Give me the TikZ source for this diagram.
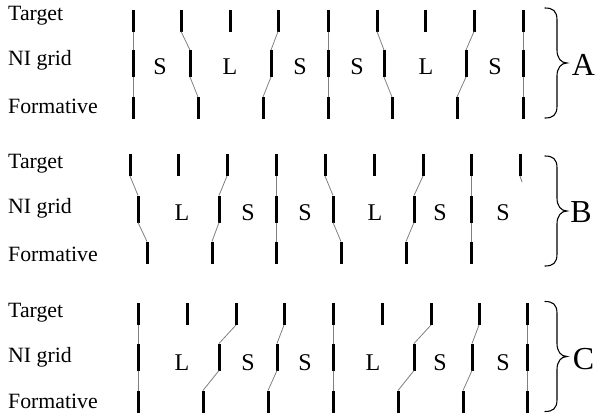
\documentclass[tikz,border=0pt]{standalone}
\usepackage{fontspec}
\setmainfont{Liberation Serif}
\begin{document}
\begin{tikzpicture}[x=1pt,y=-1pt,
  tbar/.style={rectangle,fill=black,draw=none,minimum width=3pt,minimum height=22pt,inner sep=0pt,outer sep=0pt},
  nbar/.style={tbar,minimum height=27pt},
  link/.style={draw=black!50,line width=0.8pt},
  rowlab/.style={anchor=base west,inner sep=0pt,font=\fontsize{21.8}{26}\selectfont},
  cell/.style={anchor=base,inner sep=0pt,font=\fontsize{24}{28}\selectfont},
  panel/.style={anchor=base,inner sep=0pt,font=\fontsize{32}{38}\selectfont},
  curly/.pic={\draw[line width=1.1pt,line cap=round]
    (545,-55) .. controls (553,-55) and (557,-52) .. (557,-43) -- (557,-13)
    .. controls (557,-5) and (561,0) .. (567,0)
    .. controls (561,0) and (557,5) .. (557,13) -- (557,43)
    .. controls (557,52) and (553,55) .. (545,55);}
]
\useasboundingbox (0,0) rectangle (598,416);

% ---------- Panel A ----------
\node[rowlab] (A-lt) at (8,20.7) {Target};
\node[rowlab] (A-ln) at (8,65) {NI grid};
\node[rowlab] (A-lf) at (8,113) {Formative};
\foreach \x [count=\i] in {133,181,230,278,328,377,425,474,523}
  \node[tbar] (A-T\i) at (\x,20.5) {};
\foreach \x [count=\i] in {133,190,271,328,384,466,523}
  \node[nbar] (A-N\i) at (\x,63.5) {};
\foreach \x [count=\i] in {133,198,263,328,392,457,523}
  \node[tbar] (A-F\i) at (\x,108) {};
\foreach \t/\n in {1/1,2/2,4/3,5/4,6/5,8/6,9/7}{
  \draw[link] (A-T\t.south) -- (A-N\n.north);
  \draw[link] (A-N\n.south) -- (A-F\n.north);
}
\foreach \x/\l [count=\i] in {160/S,230/L,300/S,357/S,426/L,495/S}
  \node[cell] (A-c\i) at (\x,74) {\l};
\pic (A-br) at (0,63) {curly};
\node[panel] (A-name) at (583.5,75) {A};

% ---------- Panel B ----------
\node[rowlab] (B-lt) at (8,168) {Target};
\node[rowlab] (B-ln) at (8,213) {NI grid};
\node[rowlab] (B-lf) at (8,261) {Formative};
\foreach \x [count=\i] in {130,178,227,276,325,374,423,471,520}
  \node[tbar] (B-T\i) at (\x,165) {};
\foreach \x [count=\i] in {138,219,276,333,414,471}
  \node[nbar] (B-N\i) at (\x,209) {};
\foreach \x [count=\i] in {147,212,276,341,406,471}
  \node[tbar] (B-F\i) at (\x,252.5) {};
\foreach \t/\n in {1/1,3/2,4/3,5/4,7/5,8/6}{
  \draw[link] (B-T\t.south) -- (B-N\n.north);
  \draw[link] (B-N\n.south) -- (B-F\n.north);
}
\coordinate (B-stub) at (522,182);
\draw[link] (B-T9.south) -- (B-stub);
\foreach \x/\l [count=\i] in {182/L,248/S,305/S,375/L,440/S,503/S}
  \node[cell] (B-c\i) at (\x,220) {\l};
\pic (B-br) at (0,211) {curly};
\node[panel] (B-name) at (581,222) {B};

% ---------- Panel C ----------
\node[rowlab] (C-lt) at (8,317) {Target};
\node[rowlab] (C-ln) at (8,362) {NI grid};
\node[rowlab] (C-lf) at (8,408) {Formative};
\foreach \x [count=\i] in {138,187,236,284,333,382,431,479,527}
  \node[tbar] (C-T\i) at (\x,314) {};
\foreach \x [count=\i] in {138,219,277,333,414,472,527}
  \node[nbar] (C-N\i) at (\x,357) {};
\foreach \x [count=\i] in {138,203,268,333,398,463,527}
  \node[tbar] (C-F\i) at (\x,401.5) {};
\foreach \t/\n in {1/1,3/2,4/3,5/4,7/5,8/6,9/7}{
  \draw[link] (C-T\t.south) -- (C-N\n.north);
  \draw[link] (C-N\n.south) -- (C-F\n.north);
}
\foreach \x/\l [count=\i] in {182/L,248/S,305/S,373/L,440/S,503/S}
  \node[cell] (C-c\i) at (\x,370) {\l};
\pic (C-br) at (0,356.5) {curly};
\node[panel] (C-name) at (583.5,369) {C};
\end{tikzpicture}
\end{document}
